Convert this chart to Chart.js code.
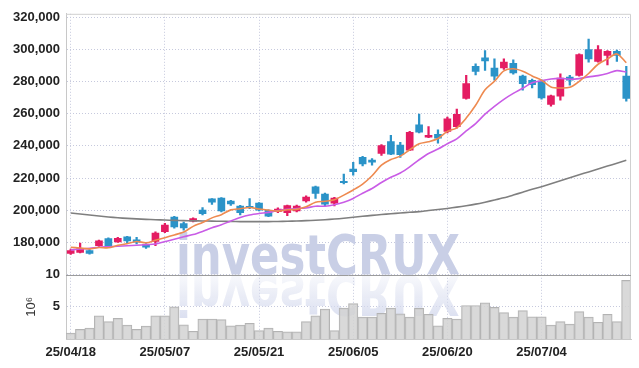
<!DOCTYPE html>
<html lang="ko">
<head>
  <meta charset="UTF-8">
  <title>investCRUX 일봉</title>
  <script src="https://cdn.jsdelivr.net/npm/chart.js"></script>
  <style>
    html, body { margin: 0; padding: 0; background: #fff; }
    #box { width: 639px; height: 368px; }
  </style>
</head>
<body>
  <div id="box"><canvas id="candleChart"></canvas></div>

  <script>
    // trading days (yy/mm/dd)
    const dates = [
      "25/04/18","25/04/21","25/04/22","25/04/23","25/04/24","25/04/25","25/04/28","25/04/29","25/04/30","25/05/02",
      "25/05/07","25/05/08","25/05/09","25/05/12","25/05/13","25/05/14","25/05/15","25/05/16","25/05/19","25/05/20",
      "25/05/21","25/05/22","25/05/23","25/05/26","25/05/27","25/05/28","25/05/29","25/05/30","25/06/02","25/06/04",
      "25/06/05","25/06/09","25/06/10","25/06/11","25/06/12","25/06/13","25/06/16","25/06/17","25/06/18","25/06/19",
      "25/06/20","25/06/23","25/06/24","25/06/25","25/06/26","25/06/27","25/06/30","25/07/01","25/07/02","25/07/03",
      "25/07/04","25/07/07","25/07/08","25/07/09","25/07/10","25/07/11","25/07/14","25/07/15","25/07/16","25/07/17"
    ];

    const opens = [
      173200,173800,174900,178000,182300,180300,183500,181600,178600,180600,
      186600,195800,191700,193200,200100,207000,207500,205700,202600,202400,
      204400,200000,199100,198500,199500,205700,214500,210000,204400,218000,
      225600,232800,231200,235300,242700,240400,237300,253100,245300,247200,
      249000,251900,269400,289300,294600,288300,288400,291300,283300,280700,
      280200,265700,270800,282700,283800,299800,292400,296100,298700,283300
    ];
    const closes = [
      174900,176100,173200,181000,178000,182600,181000,180200,177000,185800,
      190700,189600,189000,194800,197800,205000,199500,203900,198500,201600,
      200100,196300,200700,202800,202600,208100,210400,203800,207500,217100,
      224000,228700,229800,240200,234800,234500,248400,248400,246500,244700,
      256800,259500,278600,286200,292800,283300,292000,285200,278600,278000,
      269800,271000,282100,280700,296700,294000,299800,298700,296100,269400
    ];
    const highs = [
      175800,179600,175500,181500,182800,183200,183800,183100,179200,186500,
      191800,196200,192700,195200,201600,207300,207800,206100,203000,207300,
      204800,200300,201500,203200,203200,209000,215000,210700,208000,222500,
      229700,233500,232000,240800,246500,242200,249000,259700,251900,249900,
      257800,262800,283800,290900,299200,294000,294000,293400,284000,281500,
      281000,271500,284700,283800,297200,306300,302300,299200,299500,289300
    ];
    const lows = [
      172500,173500,172700,177500,177500,180000,179400,179000,176300,177900,
      186000,188900,187600,192800,197000,203600,199000,203000,197000,200900,
      199600,196000,198500,196600,199000,205000,207300,202600,202600,216300,
      221700,227500,228000,234000,234500,232800,237000,248000,245000,241600,
      248000,250900,269000,284100,286800,280700,287500,284500,274500,276000,
      269000,264700,268400,277600,283300,292000,292000,290300,292400,267700
    ];

    const ma5 = [
      177000,176500,176000,176800,176640,178180,179160,180560,179760,181320,
      182940,184660,186420,189980,192380,195240,197220,200200,200940,201700,
      200720,200080,199440,200300,200500,202100,204920,205540,206480,209380,
      212560,216220,221420,227960,231500,233600,237540,241260,242520,244500,
      248960,251180,257220,265160,274780,280080,286580,287900,286380,283420,
      280720,276520,275900,276320,280060,284900,290660,293980,297060,291600
    ];
    const ma10 = [
      175300,175900,176300,177000,177300,177600,177900,178200,178600,178980,
      180560,181910,183490,184870,186850,189090,190940,193310,195460,197040,
      197980,198650,199820,200620,201100,201410,202500,202490,203390,204940,
      207330,210570,213480,217220,220440,223080,226880,231340,235240,238000,
      241280,244360,249240,253840,259640,264520,268880,272560,275770,279100,
      280400,281550,281900,281350,281740,282810,283590,284940,286690,285830
    ];
    const maLong = [
      198300,197600,197000,196400,195800,195300,194900,194600,194300,194100,
      193900,193700,193500,193400,193300,193200,193100,193000,192900,192900,
      192900,192900,193000,193100,193300,193500,193800,194100,194500,195000,
      195600,196200,196800,197300,197800,198300,198700,199100,199800,200400,
      201100,201900,202800,203800,205000,206300,207700,209400,211200,213000,
      214600,216400,218300,220200,222000,223800,225600,227400,229200,231000
    ];

    // volume, millions of shares
    const volumes = [
      0.9,1.5,1.7,3.6,2.7,3.2,2.15,1.5,2.0,3.6,
      3.6,5.0,2.2,1.2,3.1,3.1,3.0,2.05,2.15,2.45,
      1.3,1.7,1.2,1.1,1.1,2.7,3.6,4.65,1.3,4.8,
      5.5,3.4,3.4,4.0,4.8,3.9,3.4,4.75,3.85,2.05,
      3.2,3.1,5.2,5.2,5.6,4.9,4.1,3.4,4.4,3.45,
      3.45,2.15,2.7,2.3,4.25,3.4,2.6,3.85,2.7,9.1
    ];

    const priceTicks = [180000, 200000, 220000, 240000, 260000, 280000, 300000, 320000];
    const volumeTicks = [5, 10];
    const labelEvery = 10;

    const UP = "#e41c62";
    const DOWN = "#2b93c8";
    const GRID = "#c6c9dd";
    const FONT = '"Liberation Sans", Arial, sans-serif';
    const MARK_FONT = '"DejaVu Sans Condensed", "DejaVu Sans", sans-serif';

    const candleColor = (ctx) => {
      const i = ctx.dataIndex;
      return closes[i] >= opens[i] ? UP : DOWN;
    };

    const watermark = {
      id: "watermark",
      beforeDatasetsDraw(chart) {
        const { ctx, chartArea } = chart;
        const base = chart.scales.y.bottom;
        const x = chartArea.left + 110;
        const w = 284;
        ctx.save();
        ctx.font = "bold 56px " + MARK_FONT;
        ctx.textBaseline = "alphabetic";
        ctx.fillStyle = "#c9cfe6";
        ctx.fillText("investCRUX", x, base - 1, w);
        // reflection
        ctx.translate(0, base + 1);
        ctx.scale(1, -1);
        const g = ctx.createLinearGradient(0, 0, 0, -42);
        g.addColorStop(0, "rgba(214,219,238,0.2)");
        g.addColorStop(1, "rgba(214,219,238,0.85)");
        ctx.fillStyle = g;
        ctx.fillText("investCRUX", x, 0, w);
        ctx.restore();
      }
    };

    const frame = {
      id: "frame",
      afterDatasetsDraw(chart) {
        const { ctx, chartArea } = chart;
        const sep = Math.round(chart.scales.y.bottom) + 0.5;
        ctx.save();
        ctx.lineWidth = 1;
        ctx.strokeStyle = "#d0d0d0";
        ctx.beginPath();
        ctx.moveTo(chartArea.left, chartArea.top + 0.5);
        ctx.lineTo(chartArea.right - 0.5, chartArea.top + 0.5);
        ctx.lineTo(chartArea.right - 0.5, chartArea.bottom);
        ctx.stroke();
        ctx.strokeStyle = "#9c9c9c";
        ctx.beginPath();
        ctx.moveTo(chartArea.left, sep);
        ctx.lineTo(chartArea.right, sep);
        ctx.stroke();
        ctx.restore();
      }
    };

    new Chart(document.getElementById("candleChart"), {
      type: "bar",
      data: {
        labels: dates,
        datasets: [
          {
            type: "line", label: "MA5", data: ma5, yAxisID: "y",
            borderColor: "#ee8a50", borderWidth: 1.6, pointRadius: 0, tension: 0.3, order: 0
          },
          {
            type: "line", label: "MA10", data: ma10, yAxisID: "y",
            borderColor: "#c95ce6", borderWidth: 1.6, pointRadius: 0, tension: 0.3, order: 0
          },
          {
            type: "line", label: "MA", data: maLong, yAxisID: "y",
            borderColor: "#7f7f7f", borderWidth: 1.6, pointRadius: 0, tension: 0.3, order: 0
          },
          {
            label: "wick", data: lows.map((l, i) => [l, highs[i]]), yAxisID: "y",
            backgroundColor: candleColor, barThickness: 1.6, grouped: false, order: 2
          },
          {
            label: "body", data: opens.map((o, i) => [o, closes[i]]), yAxisID: "y",
            backgroundColor: candleColor, barThickness: 7, grouped: false, order: 1
          },
          {
            label: "volume", data: volumes, yAxisID: "yv",
            backgroundColor: "rgba(210,210,210,0.85)", borderColor: "#b3b3b3", borderWidth: 1,
            barPercentage: 1, categoryPercentage: 1, grouped: false, order: 3
          }
        ]
      },
      options: {
        responsive: true,
        maintainAspectRatio: false,
        animation: false,
        layout: { padding: { top: 11, right: 8, left: 0, bottom: 0 } },
        plugins: { legend: { display: false }, tooltip: { enabled: false } },
        scales: {
          x: {
            offset: true,
            grid: {
              offset: false, drawTicks: false,
              color: (c) => (c.index % labelEvery === 0 ? GRID : "transparent")
            },
            border: { color: "#c8c8c8", dash: [1, 2] },
            ticks: {
              autoSkip: false, maxRotation: 0, padding: 6, color: "#222",
              font: { family: FONT, size: 13, weight: "bold" },
              callback: (v, i) => (i % labelEvery === 0 ? dates[i] : "")
            },
            afterFit: (s) => { s.height = 29; }
          },
          // stacked panels: the scale listed later is placed higher
          yv: {
            position: "left", stack: "left", stackWeight: 1,
            min: 0, max: 10,
            afterBuildTicks: (s) => { s.ticks = volumeTicks.map(v => ({ value: v })); },
            afterFit: (s) => { s.width = 66; },
            grid: { color: GRID, drawTicks: false },
            border: { color: "#c8c8c8", dash: [1, 2] },
            title: {
              display: true, text: "10⁶", color: "#333",
              font: { family: FONT, size: 13 }, padding: { top: 24, bottom: 0 }
            },
            ticks: {
              padding: 6, color: "#222",
              font: { family: FONT, size: 13, weight: "bold" }
            }
          },
          y: {
            position: "left", stack: "left", stackWeight: 4.05,
            min: 160000, max: 322000,
            afterBuildTicks: (s) => { s.ticks = priceTicks.map(v => ({ value: v })); },
            afterFit: (s) => { s.width = 66; },
            grid: { color: GRID, drawTicks: false },
            border: { color: "#c8c8c8", dash: [1, 2] },
            ticks: {
              padding: 6, color: "#222",
              font: { family: FONT, size: 13, weight: "bold" },
              callback: (v) => v.toLocaleString("en-US")
            }
          }
        }
      },
      plugins: [watermark, frame]
    });
  </script>
</body>
</html>
